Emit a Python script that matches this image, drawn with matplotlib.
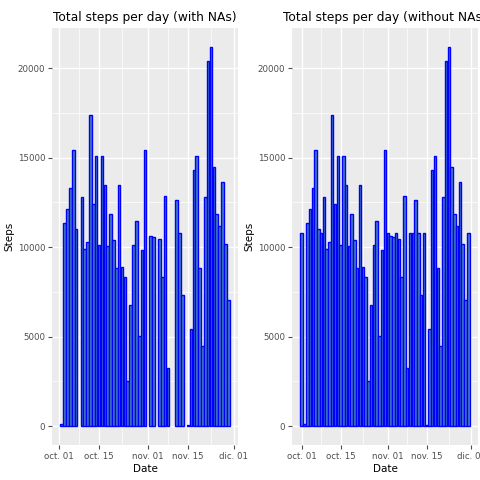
import matplotlib
matplotlib.use("Agg")
import matplotlib.pyplot as plt
import matplotlib.dates as mdates
import numpy as np
import pandas as pd

dates = pd.date_range("2012-10-01", "2012-11-30", freq="D")
steps = [np.nan,126,11352,12116,13294,15420,11015,np.nan,12811,9900,10304,17382,12426,15098,
         10139,15084,13452,10056,11829,10395,8821,13460,8918,8355,2492,6778,10119,11458,5018,
         9819,15414,np.nan,10600,10571,np.nan,10439,8334,12883,3219,np.nan,np.nan,12608,10765,
         7336,np.nan,41,5441,14339,15110,8841,4472,12787,20427,21194,14478,11834,11162,13646,
         10183,7047,np.nan]
mean_steps = 10766.19
steps = np.array(steps, dtype=float)
imputed = np.where(np.isnan(steps), mean_steps, steps)
titles = ["Total steps per day (with NAs)", "Total steps per day (without NAs)"]
ticks = pd.to_datetime(["2012-10-01","2012-10-15","2012-11-01","2012-11-15","2012-12-01"])
tick_labels = ["oct. 01","oct. 15","nov. 01","nov. 15","dic. 01"]

fig = plt.figure(figsize=(4.8,4.8), dpi=100)
axes = [fig.add_axes([52/480, 35/480, 186/480, 417/480]),
        fig.add_axes([292/480, 35/480, 186/480, 417/480])]
for ax, vals, title in zip(axes, [steps, imputed], titles):
    mask = ~np.isnan(vals)
    d = dates[mask]
    ax.set_facecolor("#EBEBEB")
    ax.bar(d, vals[mask], width=0.9, color="#4682B4", edgecolor="blue", linewidth=1, zorder=3)
    xmin = mdates.date2num(d[0]) - 0.45; xmax = mdates.date2num(d[-1]) + 0.45
    pad = (xmax - xmin) * 0.05
    ax.set_xlim(xmin - pad, xmax + pad)
    ax.set_ylim(-1060, 22250)
    ax.set_xticks(ticks); ax.set_xticklabels(tick_labels)
    ax.set_yticks([0,5000,10000,15000,20000])
    minor = mdates.date2num(pd.to_datetime(["2012-10-08","2012-10-23","2012-11-08","2012-11-23"]))
    ax.set_xticks(minor, minor=True)
    ax.set_yticks([2500,7500,12500,17500], minor=True)
    ax.grid(which="major", color="white", linewidth=1, zorder=0)
    ax.grid(which="minor", color="white", linewidth=0.5, zorder=0)
    for s in ax.spines.values(): s.set_visible(False)
    ax.tick_params(which="major", colors="#4D4D4D", labelsize=6.2, length=3, pad=2)
    ax.tick_params(which="minor", length=0)
    ax.set_xlabel("Date", fontsize=7.5, labelpad=2)
    ax.set_ylabel("Steps", fontsize=7.5, labelpad=2)
    ax.set_title(title, fontsize=8.8, pad=5)
fig.savefig("out.png", dpi=100, facecolor="white")
